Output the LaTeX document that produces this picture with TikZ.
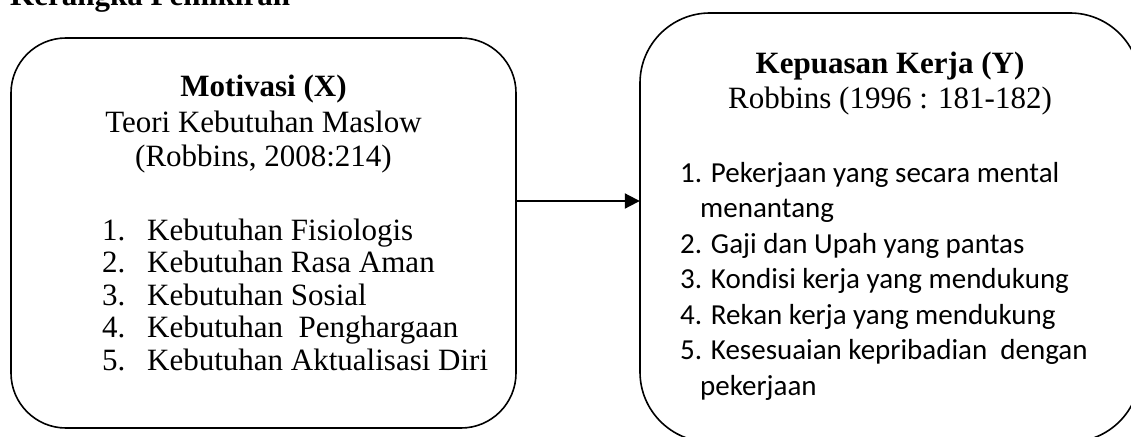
\documentclass[tikz,border=0pt]{standalone}
\usepackage{fontspec}
\setmainfont{Liberation Serif}
\newfontfamily\calfont{Carlito}
\usetikzlibrary{arrows.meta}
\tikzset{
  boxstyle/.style={draw=black, line width=1.6pt, rounded corners=#1, inner sep=0pt},
  serif/.style={inner sep=0pt, font=\fontsize{31}{34}\selectfont},
  seriftitle/.style={inner sep=0pt, font=\fontsize{31}{34}\selectfont\bfseries},
  cal/.style={inner sep=0pt, font=\calfont\fontsize{29}{35}\selectfont, anchor=base west},
  item/.style={serif, anchor=base west},
  arr/.style={line width=2pt, -{Triangle[length=15pt,width=15pt]}}
}
\begin{document}
\begin{tikzpicture}[x=1pt,y=-1pt]
\useasboundingbox (0,0) rectangle (1131,436);
\clip (0,0) rectangle (1131,436);
% title (cut off at top)
\node[seriftitle, anchor=base west] (title) at (10,6) {Kerangka Pemikiran};
% left box
\draw[boxstyle=55pt] (11,38) rectangle (516,428);
\node[minimum width=505pt, minimum height=390pt, inner sep=0pt] (lbox) at (263.5,233) {};
\node[seriftitle, anchor=base] (lt1) at (263.5,96) {Motivasi (X)};
\node[serif, anchor=base] (lt2) at (263.5,132) {Teori Kebutuhan Maslow};
\node[serif, anchor=base] (lt3) at (263.5,166) {(Robbins, 2008:214)};
\foreach \n/\t [count=\i from 0] in {1/Kebutuhan Fisiologis, 2/Kebutuhan Rasa Aman, 3/Kebutuhan Sosial, 4/Kebutuhan~~Penghargaan, 5/Kebutuhan Aktualisasi Diri}{
  \node[item] (ln\n) at (102,240+32.5*\i) {\n.};
  \node[item] (li\n) at (147,240+32.5*\i) {\t};
}
% right box
\draw[boxstyle=70pt] (640,13) rectangle (1140,442);
\node[minimum width=500pt, minimum height=429pt, inner sep=0pt] (rbox) at (890,227.5) {};
\node[seriftitle, anchor=base] (rt1) at (890,73) {Kepuasan Kerja (Y)};
\node[serif, anchor=base] (rt2) at (890,108) {Robbins (1996 : 181-182)};
\node[cal] (r1) at (680,182) {1. Pekerjaan yang secara mental};
\node[cal] (r1b) at (700,217.5) {menantang};
\node[cal] (r2) at (680,253) {2. Gaji dan Upah yang pantas};
\node[cal] (r3) at (680,288.5) {3. Kondisi kerja yang mendukung};
\node[cal] (r4) at (680,324) {4. Rekan kerja yang mendukung};
\node[cal] (r5) at (680,359.5) {5. Kesesuaian kepribadian~~dengan};
\node[cal] (r5b) at (700,395) {pekerjaan};
% arrow
\draw[arr] ([yshift=32pt]lbox.east) -- ([yshift=26.5pt]rbox.west);
\end{tikzpicture}
\end{document}
